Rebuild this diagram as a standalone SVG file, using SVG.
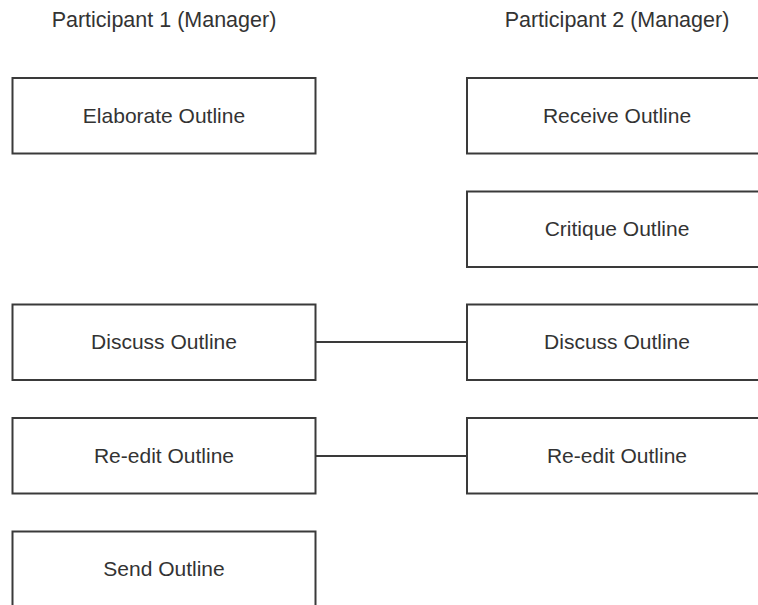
<svg xmlns="http://www.w3.org/2000/svg" width="758" height="605" viewBox="0 0 758 605">
<style>
.box{fill:#fff;stroke:#3a3a3a;stroke-width:2}
.lbl{font-family:"Liberation Sans",Arial,sans-serif;font-size:21px;fill:#333;text-anchor:middle}
.hdr{font-family:"Liberation Sans",Arial,sans-serif;font-size:21.5px;fill:#333;text-anchor:middle}
.conn{stroke:#3a3a3a;stroke-width:2;fill:none}
</style>
<rect width="758" height="605" fill="#fff"/>
<text class="hdr" x="164" y="27">Participant 1 (Manager)</text>
<text class="hdr" x="617" y="27">Participant 2 (Manager)</text>
<g id="connectors">
<line class="conn" x1="316" y1="342" x2="467" y2="342"/>
<line class="conn" x1="316" y1="456" x2="467" y2="456"/>
</g>
<g id="p1-elaborate"><rect class="box" x="12.5" y="78" width="303" height="75.5"/><text class="lbl" x="164" y="122.5">Elaborate Outline</text></g>
<g id="p1-discuss"><rect class="box" x="12.5" y="304.5" width="303" height="75.5"/><text class="lbl" x="164" y="349">Discuss Outline</text></g>
<g id="p1-reedit"><rect class="box" x="12.5" y="418" width="303" height="75.5"/><text class="lbl" x="164" y="462.5">Re-edit Outline</text></g>
<g id="p1-send"><rect class="box" x="12.5" y="531.5" width="303" height="75.5"/><text class="lbl" x="164" y="576">Send Outline</text></g>
<g id="p2-receive"><rect class="box" x="467" y="78" width="303" height="75.5"/><text class="lbl" x="617" y="122.5">Receive Outline</text></g>
<g id="p2-critique"><rect class="box" x="467" y="191.5" width="303" height="75.5"/><text class="lbl" x="617" y="236">Critique Outline</text></g>
<g id="p2-discuss"><rect class="box" x="467" y="304.5" width="303" height="75.5"/><text class="lbl" x="617" y="349">Discuss Outline</text></g>
<g id="p2-reedit"><rect class="box" x="467" y="418" width="303" height="75.5"/><text class="lbl" x="617" y="462.5">Re-edit Outline</text></g>
</svg>
